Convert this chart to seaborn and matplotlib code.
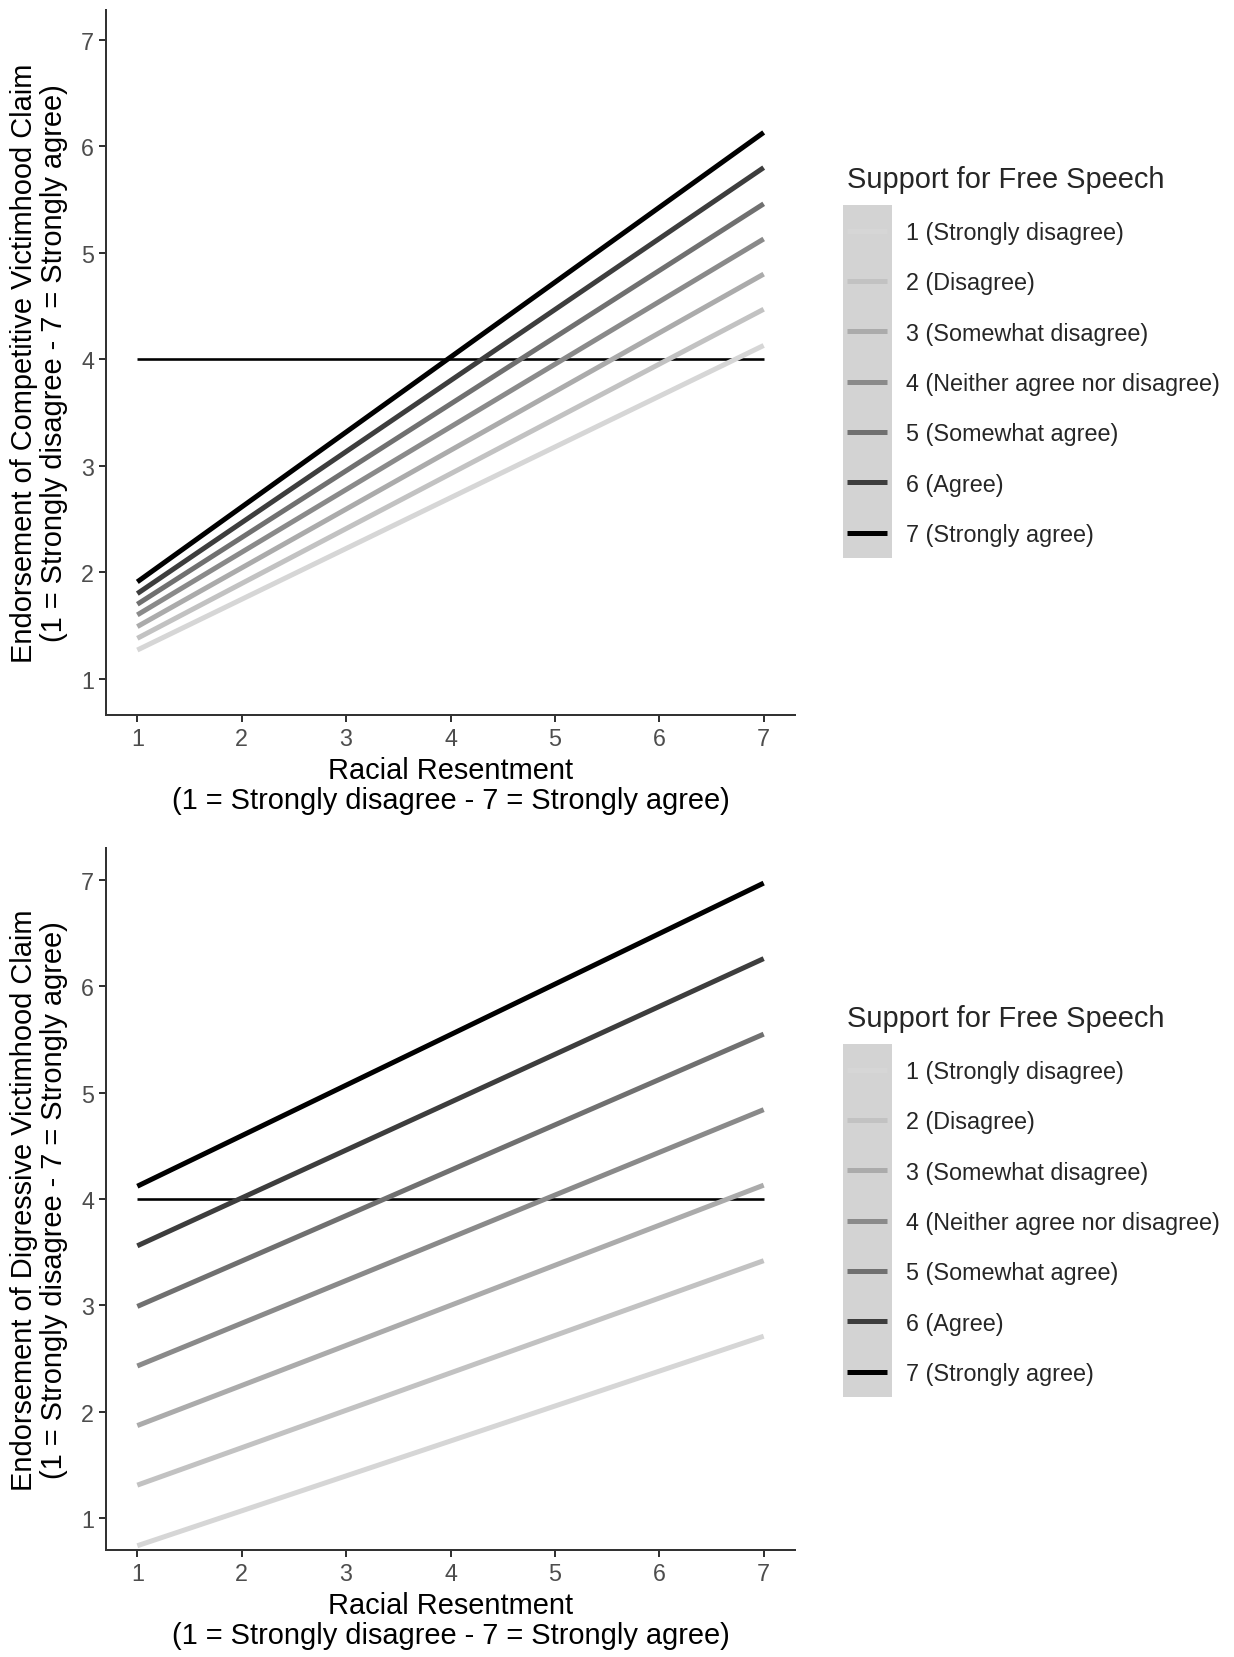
import numpy as np
import pandas as pd
import matplotlib
matplotlib.use("Agg")
import matplotlib.pyplot as plt
import seaborn as sns
from matplotlib.lines import Line2D
from matplotlib.patches import Rectangle

# ---------------- data ----------------
racial_resentment = [1, 7]
levels = ["1 (Strongly disagree)", "2 (Disagree)", "3 (Somewhat disagree)",
          "4 (Neither agree nor disagree)", "5 (Somewhat agree)", "6 (Agree)",
          "7 (Strongly agree)"]
competitive_at_1 = [1.27, 1.38, 1.49, 1.60, 1.70, 1.80, 1.91]
competitive_at_7 = [4.13, 4.47, 4.80, 5.13, 5.46, 5.80, 6.13]
digressive_at_1 = [0.74, 1.31, 1.87, 2.43, 2.99, 3.56, 4.12]
digressive_at_7 = [2.71, 3.42, 4.13, 4.84, 5.55, 6.26, 6.97]
reference_value = 4
x_ticks = [1, 2, 3, 4, 5, 6, 7]
y_ticks = [1, 2, 3, 4, 5, 6, 7]

greys = ["#D6D6D6", "#C2C2C2", "#ABABAB", "#8A8A8A", "#707070", "#3D3D3D", "#000000"]

legend_title = "Support for Free Speech"
x_title = "Racial Resentment\n(1 = Strongly disagree - 7 = Strongly agree)"
y_titles = ["Endorsement of Competitive Victimhood Claim\n(1 = Strongly disagree - 7 = Strongly agree)",
            "Endorsement of Digressive Victimhood Claim\n(1 = Strongly disagree - 7 = Strongly agree)"]


def long_frame(at1, at7):
    rows = []
    for lev, a, b in zip(levels, at1, at7):
        rows.append({"rr": racial_resentment[0], "val": a, "level": lev})
        rows.append({"rr": racial_resentment[1], "val": b, "level": lev})
    return pd.DataFrame(rows)


sns.set_theme(style="white")
plt.rcParams["font.family"] = ["Liberation Sans", "DejaVu Sans"]

W, H = 1234, 1658
fig = plt.figure(figsize=(W / 100, H / 100), dpi=100)

title_px = 29
label_px = 23.4
pt = 72 / 100  # px -> pt

panels = [
    (long_frame(competitive_at_1, competitive_at_7), 11, 716, y_titles[0], 161, (0.66, 7.28)),
    (long_frame(digressive_at_1, digressive_at_7), 849, 1551, y_titles[1], 1000, (0.7, 7.3)),
]

for df, top_px, bot_px, ytitle, leg_top, ylim in panels:
    left_px, right_px = 106, 795
    ax = fig.add_axes([left_px / W, (H - bot_px) / H,
                       (right_px - left_px) / W, (bot_px - top_px) / H])
    sns.lineplot(data=df, x="rr", y="val", hue="level", hue_order=levels,
                 palette=greys, linewidth=5 * pt, legend=False, ax=ax,
                 solid_capstyle="butt", estimator=None)
    ax.hlines(reference_value, racial_resentment[0], racial_resentment[1],
              color="black", linewidth=2.6 * pt, zorder=1)
    ax.set_xlim(0.7, 7.3)
    ax.set_ylim(*ylim)
    ax.set_xticks(x_ticks)
    ax.set_yticks(y_ticks)
    for s in ["top", "right"]:
        ax.spines[s].set_visible(False)
    for s in ["left", "bottom"]:
        ax.spines[s].set_color("#333333")
        ax.spines[s].set_linewidth(2 * pt)
    ax.tick_params(axis="both", which="major", direction="out", length=7 * pt,
                   width=2 * pt, color="#333333", labelcolor="#4D4D4D",
                   labelsize=label_px * pt, pad=5 * pt, left=True, bottom=True)
    ax.set_xlabel(x_title, fontsize=title_px * pt, color="black", labelpad=4,
                  linespacing=1.12)
    ax.set_ylabel(ytitle, fontsize=title_px * pt, color="black", labelpad=9,
                  linespacing=1.12)

    handles = [Line2D([0], [0], color=c, linewidth=5 * pt, solid_capstyle="butt")
               for c in greys]
    leg = fig.legend(handles, levels, title=legend_title, loc="upper left",
                     bbox_to_anchor=(842 / W, 1 - leg_top / H),
                     bbox_transform=fig.transFigure, frameon=False,
                     fontsize=label_px * pt, title_fontsize=title_px * pt,
                     handlelength=1.71, handletextpad=0.8, labelspacing=1.17,
                     borderpad=0.23, borderaxespad=0, alignment="left")
    leg.set_zorder(5)

    fig.canvas.draw()
    renderer = fig.canvas.get_renderer()
    exts = [h.get_window_extent(renderer) for h in leg.legend_handles]
    x0 = min(e.x0 for e in exts) - 4.5
    x1 = max(e.x1 for e in exts) + 4.5
    y0 = min(e.y0 for e in exts) - 25
    y1 = max(e.y1 for e in exts) + 26
    inv = fig.transFigure.inverted()
    (fx0, fy0), (fx1, fy1) = inv.transform([(x0, y0), (x1, y1)])
    fig.add_artist(Rectangle((fx0, fy0), fx1 - fx0, fy1 - fy0,
                             transform=fig.transFigure, facecolor="#D3D3D3",
                             edgecolor="none", zorder=1))

fig.savefig("out.png", dpi=100)
